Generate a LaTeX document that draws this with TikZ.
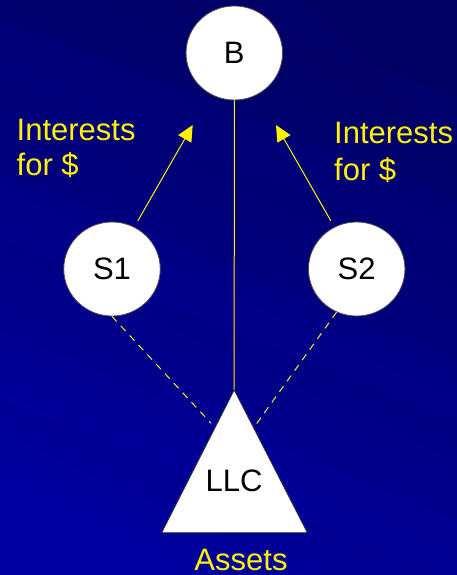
\documentclass[tikz,border=0pt]{standalone}
\usepackage{fontspec}
\setmainfont{Liberation Sans}
\usetikzlibrary{shapes.geometric,arrows.meta}
\definecolor{bgtop}{RGB}{0,0,100}
\definecolor{bgbot}{RGB}{0,0,158}
\definecolor{bandc}{RGB}{0,0,190}
\tikzset{
  ent/.style={ellipse, draw=black!70, line width=0.8pt, fill=white, inner sep=0pt,
    minimum width=96.5pt, minimum height=94pt, font=\fontsize{31}{36}\selectfont},
  lbl/.style={text=yellow, inner sep=0pt, align=left, font=\fontsize{31}{36}\selectfont},
  link/.style={draw=yellow, line width=1pt},
  flow/.style={link, -{Triangle[length=16pt,width=15pt]}, shorten <=7pt},
  weak/.style={link, dash pattern=on 7pt off 6pt}
}
\begin{document}
\begin{tikzpicture}[x=1pt,y=-1pt]
\useasboundingbox (0,0) rectangle (457,575);
% background
\shade[top color=bgtop, bottom color=bgbot, shading angle=-25] (0,0) rectangle (457,575);
\begin{scope}
\clip (0,0) rectangle (457,575);
\fill[bandc, opacity=0.10] (0,170) -- (457,360) -- (457,420) -- (0,240) -- cycle;
\fill[bandc, opacity=0.10] (0,330) -- (457,520) -- (457,575) -- (0,400) -- cycle;
\fill[bandc, opacity=0.08] (0,20) -- (457,200) -- (457,250) -- (0,80) -- cycle;
\fill[bandc, opacity=0.10] (0,470) -- (200,575) -- (0,575) -- cycle;
\fill[bandc, opacity=0.08] (200,0) -- (457,100) -- (457,150) -- (300,0) -- cycle;
\end{scope}
% nodes
\node[ent] (B) at (234.3,53) {B};
\node[ent] (S1) at (112,269) {S1};
\node[ent] (S2) at (356.7,269) {S2};
\coordinate (apex) at (234.2,390);
\coordinate (bl) at (161.7,532.7);
\coordinate (br) at (307.3,532.7);
\coordinate (t1) at (192.7,125);
\coordinate (t2) at (276,125);
\coordinate (dl) at (211,423.3);
\coordinate (dr) at (254,427.3);
% connectors
\draw[link] (B.south) -- (apex);
\draw[flow] (S1.62) -- (t1);
\draw[flow] (S2.118) -- (t2);
\draw[weak] (S1.south) -- (dl);
\draw[weak] (S2.245) -- (dr);
% triangle
\filldraw[fill=white, draw=black!80, line width=0.8pt] (apex) -- (bl) -- (br) -- cycle;
\node[inner sep=0pt, anchor=base, font=\fontsize{31}{36}\selectfont] (LLC) at (234,491.7) {LLC};
% labels
\node[lbl, anchor=base west, font=\fontsize{31}{35}\selectfont] (IL) at (16.5,175) {Interests\\for \$};
\node[lbl, anchor=base west, font=\fontsize{31}{36.7}\selectfont] (IR) at (334,180) {Interests\\for \$};
\node[lbl, anchor=base] (AS) at (241,570) {Assets};
\end{tikzpicture}
\end{document}
